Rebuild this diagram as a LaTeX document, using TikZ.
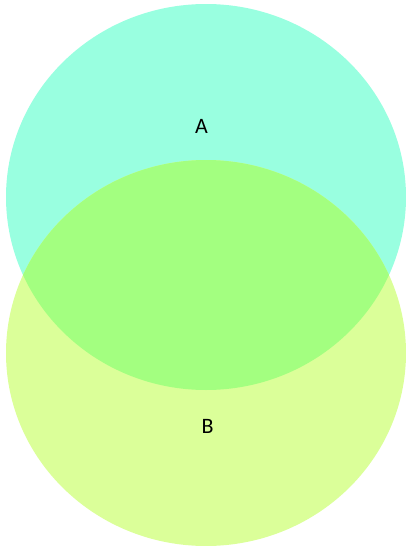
\documentclass[tikz,border=0pt]{standalone}
\usepackage{fontspec}
\setmainfont{Carlito}
\definecolor{cA}{HTML}{99FFE0}
\definecolor{cB}{HTML}{DBFF99}
\definecolor{cAB}{HTML}{A3FF80}
\begin{document}
\begin{tikzpicture}[x=1pt,y=-1pt,
  lbl/.style={font=\fontsize{22}{26}\selectfont, text=black, inner sep=0pt}]
\useasboundingbox (0,0) rectangle (406,546);
\fill[cA] (206,197) ellipse [x radius=200, y radius=193];
\fill[cB] (206,353) ellipse [x radius=200, y radius=193];
\begin{scope}
\clip (206,197) ellipse [x radius=200, y radius=193];
\fill[cAB] (206,353) ellipse [x radius=200, y radius=193];
\end{scope}
\node[lbl] (A) at (201.5,126) {A};
\node[lbl] (B) at (207.5,426.5) {B};
\end{tikzpicture}
\end{document}
